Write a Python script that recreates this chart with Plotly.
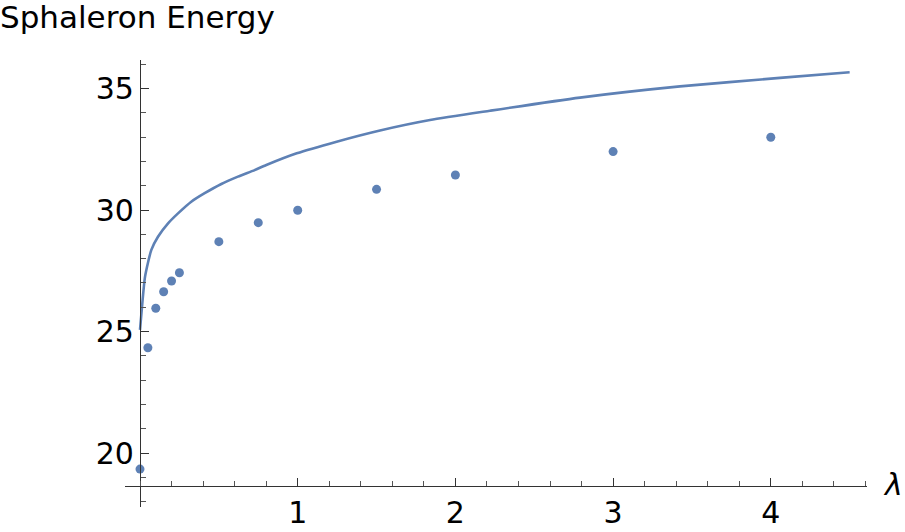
import plotly.graph_objects as go

# Data points (symbols)
lam_pts = [0, 0.05, 0.1, 0.15, 0.2, 0.25, 0.5, 0.75, 1, 1.5, 2, 3, 4]
energy_pts = [19.35, 24.34, 25.96, 26.64, 27.08, 27.42, 28.70, 29.48, 29.99, 30.85, 31.44, 32.40, 32.99]

# Curve
lam_curve = [0, 0.011, 0.032, 0.072, 0.114, 0.178, 0.241, 0.325, 0.410, 0.516, 0.621, 0.727,
             0.801, 0.994, 1.247, 1.522, 1.839, 2.219, 2.79, 3.424, 4.058, 4.5]
energy_curve = [25.07, 25.89, 27.26, 28.36, 28.90, 29.45, 29.86, 30.34, 30.69, 31.07, 31.37, 31.64,
                31.85, 32.33, 32.81, 33.27, 33.70, 34.08, 34.62, 35.08, 35.43, 35.66]

x_ticks = [1, 2, 3, 4]
y_ticks = [20, 25, 30, 35]

color = "#5E81B5"
axcol = "#333333"
font = "DejaVu Sans"

fig = go.Figure()
fig.add_trace(go.Scatter(x=lam_curve, y=energy_curve, mode="lines",
                         line=dict(color=color, width=2.6, shape="spline", smoothing=0.6),
                         hoverinfo="skip", cliponaxis=True))
fig.add_trace(go.Scatter(x=lam_pts, y=energy_pts, mode="markers",
                         marker=dict(color=color, size=9), cliponaxis=False))

L, R, T, B = 125, 38, 60, 25
W, H = 905, 532
pw, ph = W - L - R, H - T - B
x0px = 140
xscale = 157.7
yscale = 24.33
xmin = (L - x0px) / xscale
xmax = (W - R - x0px) / xscale
ybot = 30 - ((H - B) - 210) / yscale
ytop = 30 + (210 - T) / yscale
xaxis_y_px = 485.7
xpos = ((H - B) - xaxis_y_px) / ph
ypos = (x0px - L) / pw

fig.update_layout(
    width=W, height=H,
    margin=dict(l=L, r=R, t=T, b=B, pad=0, autoexpand=False),
    plot_bgcolor="white", paper_bgcolor="white",
    showlegend=False,
    font=dict(family=font, size=30, color="black"),
    xaxis=dict(range=[xmin, xmax], anchor="free", position=xpos, automargin=False,
               showgrid=False, zeroline=False, showline=True, linecolor=axcol, linewidth=1.3,
               tickmode="array", tickvals=x_ticks, ticks="inside", ticklen=8,
               tickcolor=axcol, tickwidth=1,
               tickfont=dict(family=font, size=30, color="black"),
               minor=dict(tickmode="linear", tick0=0, dtick=0.2, ticks="inside", ticklen=5,
                          tickcolor="#555555", tickwidth=1, showgrid=False)),
    yaxis=dict(range=[ybot, ytop], anchor="free", position=ypos, automargin=False,
               showgrid=False, zeroline=False, showline=True, linecolor=axcol, linewidth=1.3,
               tickmode="array", tickvals=y_ticks, ticks="inside", ticklen=8,
               tickcolor=axcol, tickwidth=1,
               tickfont=dict(family=font, size=30, color="black"),
               minor=dict(tickmode="linear", tick0=0, dtick=1, ticks="inside", ticklen=5,
                          tickcolor="#555555", tickwidth=1, showgrid=False)),
    annotations=[
        dict(text="Sphaleron Energy", xref="paper", yref="paper",
             x=(-2 - L) / pw, y=(H - B - 17) / ph, xanchor="left", yanchor="middle",
             showarrow=False, font=dict(family=font, size=31, color="black")),
        dict(text="<i>λ</i>", xref="paper", yref="paper",
             x=(893 - L) / pw, y=((H - B) - 484) / ph, xanchor="center", yanchor="middle",
             showarrow=False, font=dict(family=font, size=30, color="black")),
    ],
)

fig.write_html("out.html")
